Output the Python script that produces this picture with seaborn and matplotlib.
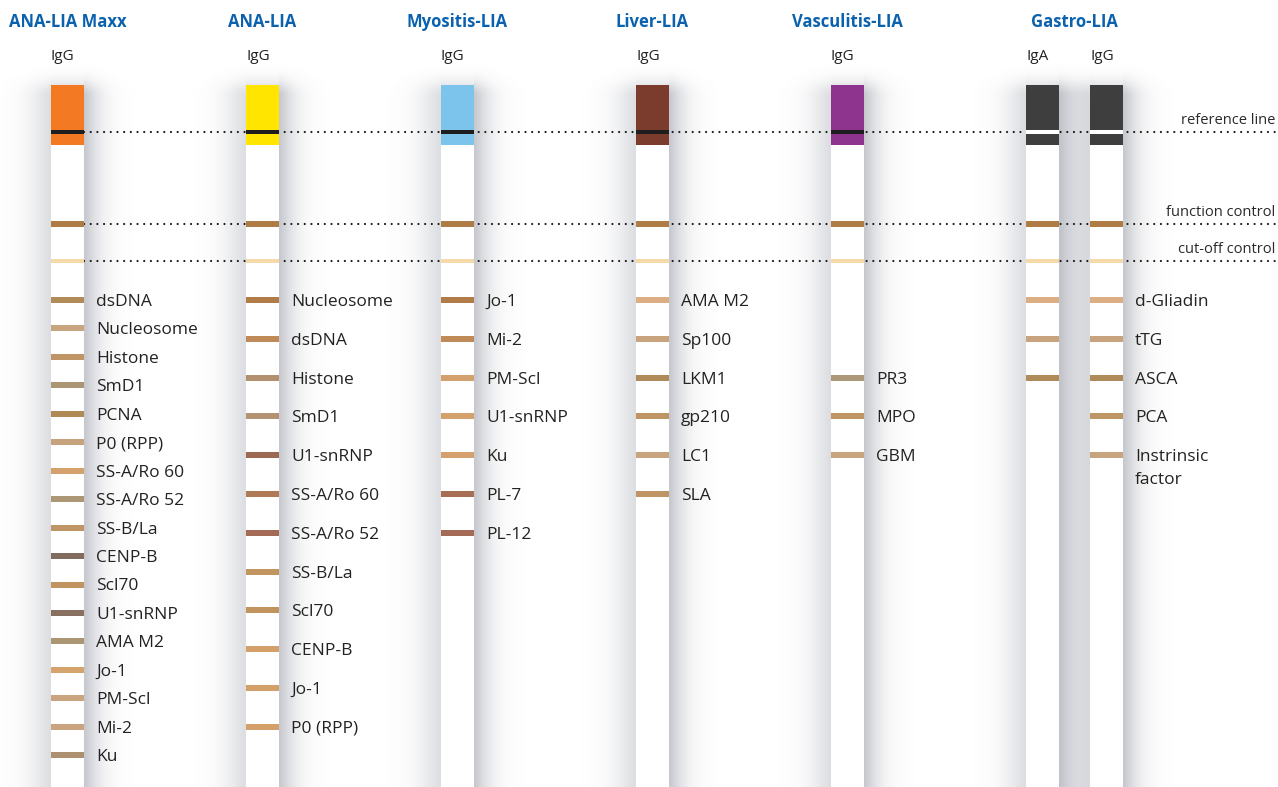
import numpy as np
import pandas as pd
import seaborn as sns
import matplotlib.pyplot as plt

sns.set_theme(style="white")
plt.rcParams['font.family'] = ['Open Sans', 'DejaVu Sans']

# ---- data ----
titles = ["ANA-LIA Maxx", "ANA-LIA", "Myositis-LIA", "Liver-LIA", "Vasculitis-LIA", "Gastro-LIA"]
isotypes = ["IgG", "IgG", "IgG", "IgG", "IgG", "IgA", "IgG"]
strip_panel = [0, 1, 2, 3, 4, 5, 5]
top_colors = ["#f37a22", "#ffe500", "#7cc4ec", "#7b3c2e", "#8e348e", "#3e3e3e", "#3e3e3e"]

maxx_antigens = ["dsDNA", "Nucleosome", "Histone", "SmD1", "PCNA", "P0 (RPP)", "SS-A/Ro 60",
                 "SS-A/Ro 52", "SS-B/La", "CENP-B", "Scl70", "U1-snRNP", "AMA M2", "Jo-1",
                 "PM-Scl", "Mi-2", "Ku"]
maxx_colors = ["#b08b58", "#c9a57f", "#c09566", "#aa9574", "#b08a55", "#c7a37d", "#d4a06b",
               "#ab9676", "#bf9566", "#806b5c", "#c0935f", "#87705f", "#ab9674", "#d5a46c",
               "#c9a47f", "#c9a47f", "#ad9070"]
ana_antigens = ["Nucleosome", "dsDNA", "Histone", "SmD1", "U1-snRNP", "SS-A/Ro 60", "SS-A/Ro 52",
                "SS-B/La", "Scl70", "CENP-B", "Jo-1", "P0 (RPP)"]
ana_colors = ["#b07c48", "#c08a58", "#b39070", "#b39372", "#9c6a52", "#b07a56", "#a36a56",
              "#c09560", "#c0935f", "#d4a06a", "#d4a06a", "#d4a06a"]
myo_antigens = ["Jo-1", "Mi-2", "PM-Scl", "U1-snRNP", "Ku", "PL-7", "PL-12"]
myo_colors = ["#b07c48", "#c08a58", "#d4a06e", "#d4a06e", "#d4a06e", "#a86e54", "#a36a56"]
liver_antigens = ["AMA M2", "Sp100", "LKM1", "gp210", "LC1", "SLA"]
liver_colors = ["#dcae84", "#c8a47e", "#b08a58", "#c09565", "#c8a47e", "#c09565"]
vasc_antigens = ["PR3", "MPO", "GBM"]
vasc_colors = ["#ac9878", "#bf9566", "#c8a47e"]
gastro_iga_antigens = ["d-Gliadin", "tTG", "ASCA"]
gastro_iga_colors = ["#dcae84", "#c8a47e", "#b08a58"]
gastro_igg_antigens = ["d-Gliadin", "tTG", "ASCA", "PCA", "Instrinsic\nfactor"]
gastro_igg_colors = ["#dcae84", "#c8a47e", "#b08a58", "#bf9566", "#c8a47e"]

control_names = ["reference line", "function control", "cut-off control"]

# ---- layout ----
W, H = 1278, 787
strip_x = [51, 246, 441, 636, 831, 1026, 1090]
strip_w = 33
strip_top = 85
block_bottom = 145
ctrl_y = [132, 224, 261]
first_band = 300
band_h = 6

strips = [
    (maxx_antigens, maxx_colors, 28.45, 0, True),
    (ana_antigens, ana_colors, 38.8, 0, True),
    (myo_antigens, myo_colors, 38.8, 0, True),
    (liver_antigens, liver_colors, 38.8, 0, True),
    (vasc_antigens, vasc_colors, 38.8, 2, True),
    (gastro_iga_antigens, gastro_iga_colors, 38.8, 0, False),
    (gastro_igg_antigens, gastro_igg_colors, 38.8, 0, True),
]

fig = plt.figure(figsize=(W / 100, H / 100), dpi=100)
ax = fig.add_axes([0, 0, 1, 1])
ax.set_xlim(0, W)
ax.set_ylim(H, 0)
ax.axis('off')

# soft shadow behind the strips
xx, yy = np.meshgrid(np.arange(W) + 0.5, np.arange(H) + 0.5)
alpha = np.zeros((H, W))
for x0 in strip_x:
    x1 = x0 + strip_w
    dr = np.clip(xx - x1, 0, None)
    dl = np.clip(x0 - xx, 0, None)
    hx = np.where(xx > x1, 0.40 * np.exp(-(dr / 16.0) ** 1.3),
                  np.where(xx < x0, 0.24 * np.exp(-(dl / 21.0) ** 1.5), 0.30))
    vy = np.where(yy > strip_top + 12, 1.0, np.exp(-((strip_top + 12 - yy) / 16.0) ** 2))
    alpha += hx * vy
alpha = np.clip(alpha, 0, 0.5)
shadow = np.zeros((H, W, 4))
shadow[..., 0] = 0.44
shadow[..., 1] = 0.46
shadow[..., 2] = 0.52
shadow[..., 3] = alpha
ax.imshow(shadow, extent=[0, W, H, 0], interpolation='bilinear', zorder=0, aspect='auto')

# dotted control lines
for y in ctrl_y:
    ax.plot([strip_x[0] + strip_w, W], [y, y], color='#1a1a1a', lw=1.6,
            linestyle=(0, (0.01, 3.0)), dash_capstyle='round', zorder=1)
for name, y in zip(control_names, ctrl_y):
    ax.text(W - 3, y - 4, name, ha='right', va='bottom', fontsize=10.5, color='#2a2a2a')

bar_kw = dict(linewidth=0, edgecolor='none')

# strips
for i, x0 in enumerate(strip_x):
    ax.barh(strip_top, strip_w, left=x0, height=H - strip_top + 5, align='edge',
            color='white', zorder=2, **bar_kw)
    ax.barh(strip_top, strip_w, left=x0, height=block_bottom - strip_top, align='edge',
            color=top_colors[i], zorder=3, **bar_kw)
    ref_col = 'white' if i >= 5 else '#1e1e1e'
    ax.barh(ctrl_y[0], strip_w, left=x0, height=4, color=ref_col, zorder=4, **bar_kw)
    ax.barh(ctrl_y[1], strip_w, left=x0, height=6, color='#b07c45', zorder=4, **bar_kw)
    ax.barh(ctrl_y[2], strip_w, left=x0, height=4, color='#f5d9a8', zorder=4, **bar_kw)
    ax.text(x0, 56, isotypes[i], ha='left', va='center', fontsize=11, color='#222222')

# panel titles
for p, t in enumerate(titles):
    xs = [strip_x[i] for i in range(len(strip_x)) if strip_panel[i] == p]
    cx = (min(xs) + max(xs) + strip_w) / 2
    ax.text(cx, 22, t, ha='center', va='center', fontsize=12, fontweight='bold',
            color='#0a62ae')

# antigen bands and labels
rows = []
for i, (names, cols, step, start, show) in enumerate(strips):
    for k, (n, c) in enumerate(zip(names, cols)):
        rows.append(dict(strip=i, antigen=n, y=first_band + (start + k) * step, color=c, label=show))
bands = pd.DataFrame(rows)

for _, r in bands.iterrows():
    x0 = strip_x[r.strip]
    ax.barh(r.y, strip_w, left=x0, height=band_h, color=r.color, zorder=4, **bar_kw)
    if r.label:
        for j, line in enumerate(r.antigen.split("\n")):
            ax.text(x0 + strip_w + 12, r.y + 6 + j * 23, line, ha='left', va='baseline',
                    fontsize=12.5, color='#222222')

fig.savefig("out.png", dpi=100)
